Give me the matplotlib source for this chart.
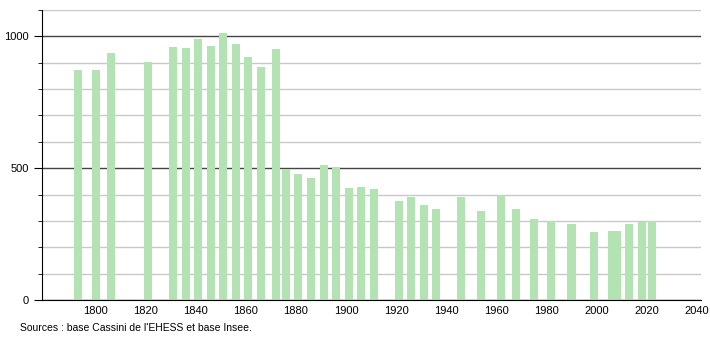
import matplotlib
matplotlib.use("Agg")
import matplotlib.pyplot as plt
from matplotlib.ticker import MultipleLocator

plt.rcParams["font.family"] = ["Liberation Sans", "DejaVu Sans"]

years = [1793, 1800, 1806, 1821, 1831, 1836, 1841, 1846, 1851, 1856, 1861,
         1866, 1872, 1876, 1881, 1886, 1891, 1896, 1901, 1906, 1911, 1921,
         1926, 1931, 1936, 1946, 1954, 1962, 1968, 1975, 1982, 1990, 1999,
         2006, 2008, 2013, 2018, 2022]
population = [874, 874, 936, 901, 959, 955, 990, 963, 1013, 970, 920,
              882, 951, 498, 477, 461, 511, 503, 423, 427, 420, 374,
              389, 362, 347, 389, 336, 399, 347, 309, 300, 290, 259,
              263, 263, 290, 294, 300]
source = "Sources : base Cassini de l'EHESS et base Insee."

fig = plt.figure(figsize=(7.1, 3.4), dpi=100)
ax = fig.add_axes([42 / 710, 40 / 340, 659 / 710, 290 / 340])

ax.bar(years, population, width=3.2, color="#b3e3b3", zorder=2)

ax.set_xlim(1778.6, 2041.7)
ax.set_ylim(0, 1100)
ax.xaxis.set_major_locator(MultipleLocator(20))
ax.yaxis.set_major_locator(MultipleLocator(500))
ax.yaxis.set_minor_locator(MultipleLocator(100))
ax.set_xticks(range(1800, 2041, 20))

ax.grid(axis="y", which="minor", color="#c8c8c8", linewidth=1, zorder=0)
ax.grid(axis="y", which="major", color="#444444", linewidth=1, zorder=1)

for side in ["top", "right"]:
    ax.spines[side].set_visible(False)
ax.spines["left"].set_color("black")
ax.spines["bottom"].set_color("black")
ax.tick_params(axis="x", length=0, labelsize=8, pad=4)
ax.tick_params(axis="y", which="major", length=6, labelsize=8)
ax.tick_params(axis="y", which="minor", length=3)

fig.text(20 / 710, 1 - 328 / 340, source, fontsize=7.5, va="center", ha="left")

fig.savefig("out.png", dpi=100)
